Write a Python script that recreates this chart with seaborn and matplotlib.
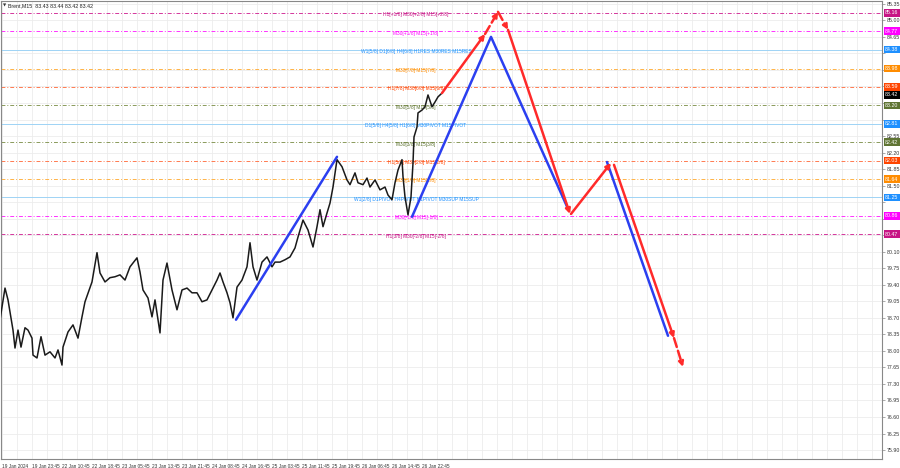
import matplotlib.pyplot as plt
import numpy as np
import pandas as pd
import seaborn as sns

# Brent M15 - bar positions and close prices
bar = [0, 5, 8, 13, 15, 18, 21, 25, 28, 32, 33, 37, 41, 45, 50, 55, 58, 62, 63, 68,
       73, 78, 82, 85, 92, 97, 100, 105, 110, 115, 120, 125, 130, 137, 140, 143, 148, 152, 155, 160,
       163, 167, 172, 177, 182, 187, 192, 197, 202, 207, 212, 217, 220, 223, 227, 230, 233, 237, 242, 247,
       250, 253, 257, 262, 267, 272, 275, 280, 285, 290, 295, 298, 303, 308, 313, 317, 320, 323, 327, 330,
       333, 337, 342, 347, 350, 355, 358, 363, 367, 370, 375, 380, 385, 388, 392, 395, 398, 402, 403, 405,
       408, 411, 413, 414, 417, 418, 422, 425, 428, 432, 435, 438, 442]
close = [78.66, 79.33, 79.08, 78.44, 78.06, 78.44, 78.08, 78.49, 78.44, 78.27, 77.91, 77.85, 78.30, 77.91, 77.98, 77.85, 78.02, 77.70, 78.08, 78.40,
         78.55, 78.27, 78.72, 79.04, 79.46, 80.08, 79.65, 79.46, 79.55, 79.57, 79.61, 79.50, 79.78, 79.97, 79.67, 79.29, 79.12, 78.72, 79.08, 78.38,
         79.50, 79.86, 79.29, 78.87, 79.29, 79.33, 79.23, 79.23, 79.04, 79.08, 79.29, 79.50, 79.65, 79.46, 79.23, 79.02, 78.70, 79.35, 79.50, 79.78,
         80.29, 79.78, 79.50, 79.88, 79.99, 79.78, 79.88, 79.88, 79.93, 79.99, 80.18, 80.41, 80.77, 80.56, 80.20, 80.63, 80.99, 80.63, 80.92, 81.13,
         81.47, 82.05, 81.90, 81.62, 81.52, 81.77, 81.56, 81.52, 81.66, 81.47, 81.62, 81.41, 81.47, 81.30, 81.20, 81.56, 81.83, 82.05, 81.69, 81.26,
         80.88, 81.26, 81.98, 82.53, 82.74, 83.04, 83.10, 83.17, 83.42, 83.17, 83.27, 83.38, 83.46]

# Murrey math levels
level_price = [85.16, 84.77, 84.38, 83.98, 83.59, 83.20, 82.81, 82.42, 82.03, 81.64, 81.25, 80.86, 80.47]
level_text = ["H1[+1/8] M30[+2/8] M15[+2/8]", "M30[+1/8] M15[+1/8]",
              "W1[5/8] D1[6/8] H4[6/8] H1RES M30RES M15RES", "M30[7/8] M15[7/8]",
              "H1[7/8] M30[6/8] M15[6/8]", "M30[5/8] M15[5/8]",
              "D1[5/8] H4[5/8] H1[6/8] M30PIVOT M15PIVOT", "M30[3/8] M15[3/8]",
              "H1[5/8] M30[2/8] M15[2/8]", "M30[1/8] M15[1/8]",
              "W1[2/8] D1PIVOT H4PIVOT H1PIVOT M30SUP M15SUP", "M30[-1/8] M15[-1/8]",
              "H1[3/8] M30[-2/8] M15[-2/8]"]
level_kind = ["violet", "magenta", "blue", "orange", "red", "olive", "blue",
              "olive", "red", "orange", "blue", "magenta", "violet"]
last_price = 83.42

# forecast paths
blue_x = [[236, 337], [412, 491, 568], [607, 668]]
blue_y = [[78.66, 82.11], [80.84, 84.65, 81.01], [82.00, 78.32]]
red_x = [442, 485, 498, 508, 570, 571, 611, 614, 674, 683]
red_y = [83.46, 84.71, 85.18, 84.80, 80.90, 80.90, 81.98, 81.94, 78.27, 77.66]

x_ticks = ["19 Jan 2024", "19 Jan 23:45", "22 Jan 10:45", "22 Jan 18:45", "23 Jan 05:45",
           "23 Jan 13:45", "23 Jan 21:45", "24 Jan 08:45", "24 Jan 16:45", "25 Jan 03:45",
           "25 Jan 11:45", "25 Jan 19:45", "26 Jan 06:45", "26 Jan 14:45", "26 Jan 22:45"]

kind_style = {
    "violet": ("#d4369c", "#c71585", (0, (4, 2, 1, 2))),
    "magenta": ("#ff33ff", "#ff00ff", (0, (4, 2, 1, 2))),
    "blue": ("#9fd3f5", "#1e90ff", "-"),
    "orange": ("#ffb347", "#ff8c00", (0, (4, 2, 1, 2))),
    "red": ("#ff7a50", "#ff4500", (0, (4, 2, 1, 2))),
    "olive": ("#8a9a5b", "#5f7433", (0, (4, 2, 1, 2))),
}

sns.set_style("white")
plt.rcParams["font.family"] = ["Liberation Sans", "DejaVu Sans"]

fig = plt.figure(figsize=(9, 4.68), dpi=100)
ax = fig.add_axes([1 / 900, 9 / 468, 881 / 900, 458 / 468])

ax.set_xlim(1, 882)
ax.set_ylim(75.71, 85.41)

# grid
yt = np.round(85.35 - 0.35 * np.arange(28), 2)
for gx in np.arange(2, 882, 15):
    ax.axvline(gx, color="#ececec", lw=0.6, zorder=0)
for gy in yt:
    ax.axhline(gy, color="#ececec", lw=0.6, zorder=0)

# levels
for p, t, k in zip(level_price, level_text, level_kind):
    lc, tc, ls = kind_style[k]
    ax.axhline(p, color=lc, lw=0.7, ls=ls, zorder=1)
    ax.text(416, p - 0.04, t, color=tc, fontsize=3.5, ha="center", va="center", zorder=2)
    ax.annotate(f"{p:.2f}", xy=(1, p), xycoords=ax.get_yaxis_transform(),
                xytext=(2.2, 0), textcoords="offset points", color="white", fontsize=3.8,
                ha="left", va="center", annotation_clip=False, zorder=5,
                bbox=dict(boxstyle="square,pad=0.25", fc=tc, ec="none"))
ax.annotate(f"{last_price:.2f}", xy=(1, last_price), xycoords=ax.get_yaxis_transform(),
            xytext=(2.2, 0), textcoords="offset points", color="white", fontsize=3.8,
            ha="left", va="center", annotation_clip=False, zorder=6,
            bbox=dict(boxstyle="square,pad=0.25", fc="black", ec="none"))

# price
df = pd.DataFrame({"bar": bar, "close": close})
sns.lineplot(data=df, x="bar", y="close", color="#1a1a1a", lw=1.1, ax=ax, zorder=3)

# blue projection
for bx, by in zip(blue_x, blue_y):
    sns.lineplot(x=bx, y=by, color="#2b3ff0", lw=1.8, ax=ax, zorder=4, sort=False)

# red projection with arrowheads
red = "#ff2a2a"
seg_style = ["-", "--", "--", "-", None, "-", None, "-", "--"]
for i, st in enumerate(seg_style):
    if st is None:
        continue
    ax.annotate("", xy=(red_x[i + 1], red_y[i + 1]), xytext=(red_x[i], red_y[i]),
                arrowprops=dict(arrowstyle="-|>", color=red, lw=1.8, ls=st,
                                mutation_scale=7, shrinkA=0, shrinkB=0), zorder=4)

# title
ax.text(3, 85.36, "\u25bc", fontsize=3, color="#333333", va="top", family="DejaVu Sans")
ax.text(8, 85.37, "Brent,M15  83.43 83.44 83.42 83.42", fontsize=3.8, color="#222222", va="top")

# price scale on the right, labels hidden behind the coloured tags
tags = level_price + [last_price]
ylab = [f"{v:.2f}" if min(abs(v - q) for q in tags) > 0.1 else "" for v in yt]
ax.yaxis.tick_right()
ax.set_yticks(yt)
ax.set_yticklabels(ylab, fontsize=3.8, color="#333333")
ax.set_xticks(np.arange(2, 423, 30))
ax.set_xticklabels(x_ticks, fontsize=3.4, color="#333333", ha="left")
ax.tick_params(axis="both", length=2, width=0.5, pad=1.5, color="#888888")
ax.set_xlabel("")
ax.set_ylabel("")
for s in ax.spines.values():
    s.set_color("#888888")
    s.set_linewidth(0.8)

fig.savefig("out.png", dpi=100)
